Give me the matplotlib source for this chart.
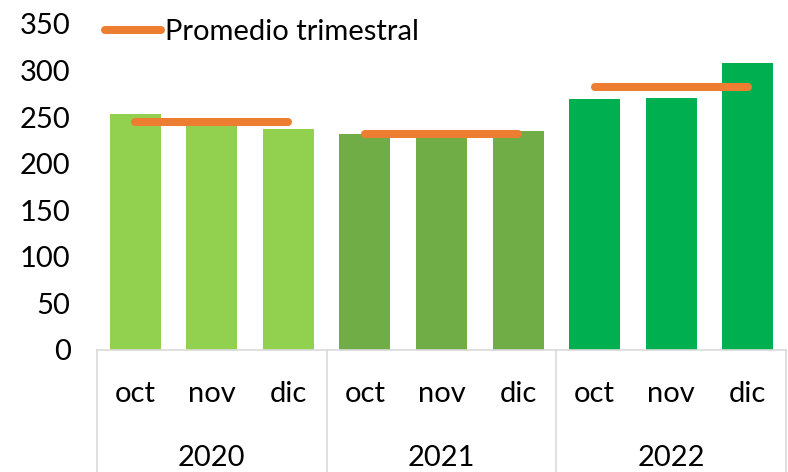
import matplotlib
matplotlib.use("Agg")
import matplotlib.pyplot as plt
import matplotlib.transforms as mtransforms
import numpy as np

years = ["2020", "2021", "2022"]
months = ["oct", "nov", "dic"]
values_2020 = [253.5, 243.8, 237.7]
values_2021 = [232.0, 229.0, 235.0]
values_2022 = [269.6, 270.7, 308.3]
year_colors = ["#92D050", "#70AD47", "#00B050"]

plt.rcParams['font.family'] = ['Lato', 'DejaVu Sans']
fs = 21

fig = plt.figure(figsize=(7.88, 4.72), dpi=100)
ax = fig.add_axes([97 / 788, 1 - 350 / 472, 689 / 788, 326 / 472])

groups = [values_2020, values_2021, values_2022]
trans = mtransforms.blended_transform_factory(ax.transData, ax.transAxes)
xticks = []
xlabels = []
for i, vals in enumerate(groups):
    x = np.arange(3) + 3 * i
    ax.bar(x, vals, width=0.667, color=year_colors[i], zorder=2)
    # quarterly average line
    avg = np.mean(vals)
    ax.plot([x[0], x[-1]], [avg, avg], color="#ED7D31", lw=5.8,
            solid_capstyle="round", zorder=3,
            label="Promedio trimestral" if i == 0 else None)
    xticks.extend(x)
    xlabels.extend(months)
    ax.text(x[1], -0.33, years[i], transform=trans, ha="center", va="center",
            fontsize=fs)

# category separators under the axis
for b in [-0.5, 2.5, 5.5, 8.5]:
    ax.plot([b, b], [0, -0.4], transform=trans, color="#D9D9D9", lw=1.2,
            clip_on=False)

ax.set_xlim(-0.5, 8.5)
ax.set_ylim(0, 350)
ax.set_yticks(range(0, 351, 50))
ax.set_xticks(xticks)
ax.set_xticklabels(xlabels)
ax.tick_params(axis="x", length=0, pad=22, labelsize=fs)
ax.tick_params(axis="y", length=0, pad=19, labelsize=fs)
for s in ["top", "right", "left"]:
    ax.spines[s].set_visible(False)
ax.spines["bottom"].set_color("#D9D9D9")
ax.spines["bottom"].set_linewidth(1.2)

ax.legend(loc="upper left", bbox_to_anchor=(0.012, 1.015), frameon=False,
          fontsize=fs, handlelength=1.9, handletextpad=0.15, borderaxespad=0,
          borderpad=0)

fig.savefig("out.png", dpi=100)
